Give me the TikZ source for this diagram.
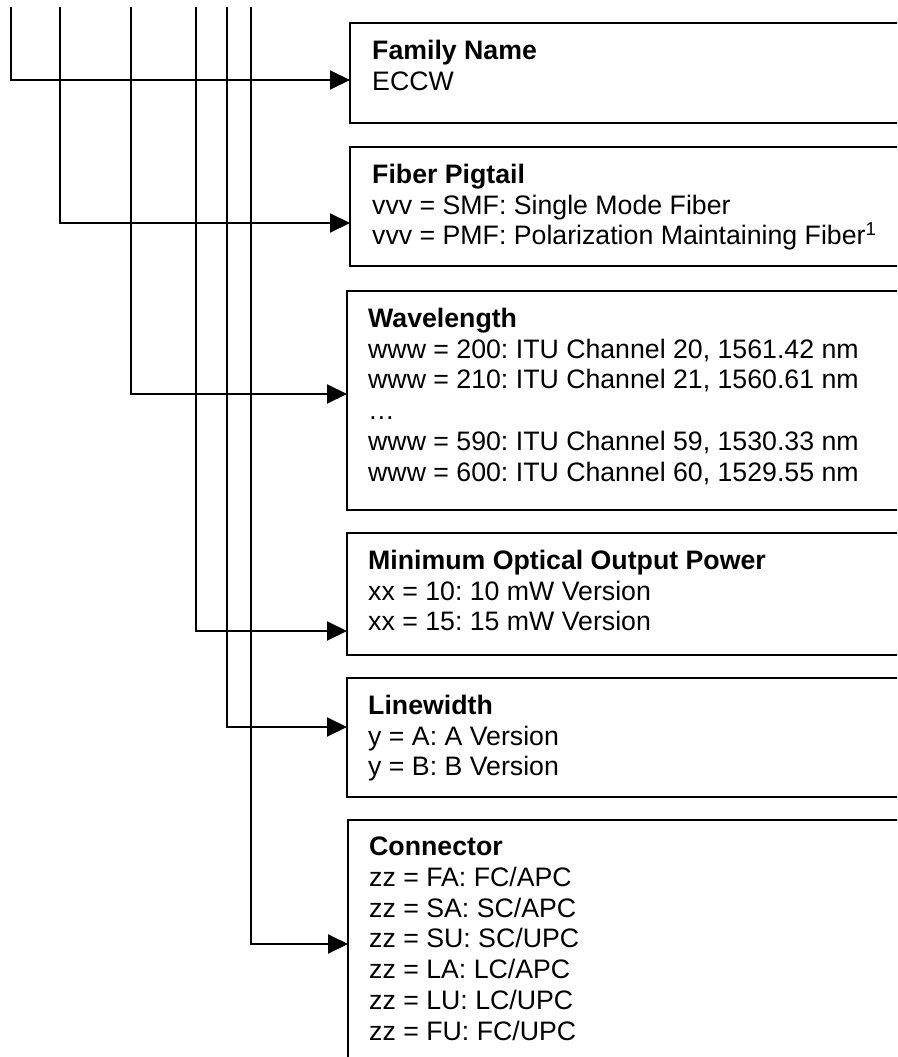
\documentclass[tikz,border=0pt]{standalone}
\usepackage{fontspec}
\setmainfont{Liberation Sans}
\usepackage{tikz}
\usetikzlibrary{arrows.meta}
\frenchspacing

\tikzset{
    codebox/.style={draw, line width=2pt, anchor=north west, minimum width=700pt, inner sep=0pt, outer sep=0pt},
    codetext/.style={anchor=north west, align=left, inner sep=0pt, font=\fontsize{26.7}{30.7}\selectfont},
    codearrow/.style={line width=2pt, -{Triangle[length=20pt,width=19pt]}}
}

\begin{document}
\begin{tikzpicture}[x=1pt, y=-1pt]
            \useasboundingbox (0,0) rectangle (897,1057);
            \clip (0,0) rectangle (897,1057);

            \node[codebox, minimum height=100pt] (family) at (350,23) {};
            \node[codebox, minimum height=119pt] (fiber) at (350,147) {};
            \node[codebox, minimum height=219pt] (wave) at (347,291) {};
            \node[codebox, minimum height=122pt] (power) at (347,533) {};
            \node[codebox, minimum height=119pt] (linewidth) at (347,678) {};
            \node[codebox, minimum height=300pt] (connector) at (348,820) {};

            \node[codetext] (familytext) at ([shift={(22,17)}]family.north west)
                {\textbf{Family Name}\\ECCW};
            \node[codetext] (fibertext) at ([shift={(22,17)}]fiber.north west)
                {\textbf{Fiber Pigtail}\\vvv = SMF: Single Mode Fiber\\vvv = PMF: Polarization Maintaining Fiber\textsuperscript{1}};
            \node[codetext] (wavetext) at ([shift={(21,17)}]wave.north west)
                {\textbf{Wavelength}\\www = 200: ITU Channel 20, 1561.42 nm\\www = 210: ITU Channel 21, 1560.61 nm\\…\\www = 590: ITU Channel 59, 1530.33 nm\\www = 600: ITU Channel 60, 1529.55 nm};
            \node[codetext] (powertext) at ([shift={(21,17)}]power.north west)
                {\textbf{Minimum Optical Output Power}\\xx = 10: 10 mW Version\\xx = 15: 15 mW Version};
            \node[codetext] (linewidthtext) at ([shift={(21,17)}]linewidth.north west)
                {\textbf{Linewidth}\\y = A: A Version\\y = B: B Version};
            \node[codetext] (connectortext) at ([shift={(21,17)}]connector.north west)
                {\textbf{Connector}\\zz = FA: FC/APC\\zz = SA: SC/APC\\zz = SU: SC/UPC\\zz = LA: LC/APC\\zz = LU: LC/UPC\\zz = FU: FC/UPC};

            \coordinate (lead1) at (11,7);
            \coordinate (lead2) at (60,7);
            \coordinate (lead3) at (131,7);
            \coordinate (lead4) at (196,7);
            \coordinate (lead5) at (227,7);
            \coordinate (lead6) at (251,7);

            \draw[codearrow] (lead1) |- (family.west |- 0,80);
            \draw[codearrow] (lead2) |- (fiber.west |- 0,223);
            \draw[codearrow] (lead3) |- (wave.west |- 0,394);
            \draw[codearrow] (lead4) |- (power.west |- 0,631);
            \draw[codearrow] (lead5) |- (linewidth.west |- 0,727);
            \draw[codearrow] (lead6) |- (connector.west |- 0,944);
\end{tikzpicture}
\end{document}
